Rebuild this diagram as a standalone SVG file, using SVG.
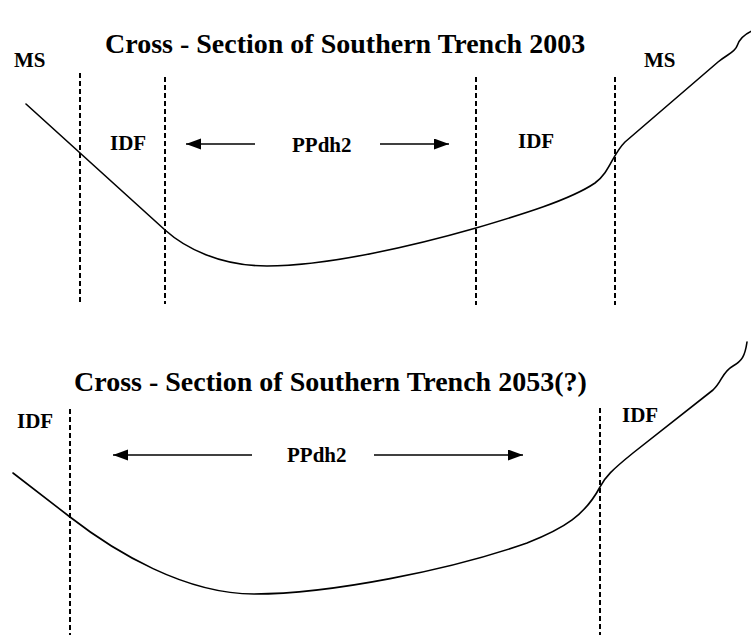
<svg xmlns="http://www.w3.org/2000/svg" width="751" height="635" viewBox="0 0 751 635">
  <defs>
    <style>
      .title { font-family: "Liberation Serif", "Times New Roman", serif; font-weight: bold; font-size: 28px; fill: #000; }
      .lbl { font-family: "Liberation Serif", "Times New Roman", serif; font-weight: bold; font-size: 21px; fill: #000; }
      .div { stroke: #000; stroke-width: 2; stroke-dasharray: 5 3; fill: none; }
      .ground { stroke: #000; stroke-width: 1.6; fill: none; stroke-linejoin: round; stroke-linecap: round; }
      .arrow { stroke: #000; stroke-width: 1.4; fill: none; marker-end: url(#head); }
    </style>
    <marker id="head" markerUnits="userSpaceOnUse" markerWidth="16" markerHeight="12" refX="15" refY="5.5" orient="auto">
      <path d="M0,0 L15,5.5 L0,11 z" fill="#000"/>
    </marker>
  </defs>
  <rect width="751" height="635" fill="#fff"/>

  <!-- Top section: 2003 -->
  <g id="section-2003">
    <text class="title" x="105" y="53">Cross - Section of Southern Trench 2003</text>
    <path class="ground" d="M26,104 L165,230 C185,248 220,266 267,266 C330,266 420,244 476,228 C520,215 570,200 595,183 C610,172 612,155 625,142 L718,62 C728,54 735,52 737,46 C739,40 743,35 752,31"/>
    <line class="div" x1="80" y1="73" x2="80" y2="303"/>
    <line class="div" x1="165" y1="77" x2="165" y2="304"/>
    <line class="div" x1="476" y1="77" x2="476" y2="305"/>
    <line class="div" x1="615" y1="77" x2="615" y2="305"/>
  </g>
  <g id="ms-left-2003"><text class="lbl" x="14" y="67">MS</text></g>
  <g id="ms-right-2003"><text class="lbl" x="644" y="67">MS</text></g>
  <g id="idf-left-2003"><text class="lbl" x="110" y="150">IDF</text></g>
  <g id="ppdh2-2003"><text class="lbl" x="292" y="152">PPdh2</text></g>
  <g id="idf-right-2003"><text class="lbl" x="518" y="148">IDF</text></g>

  <!-- Bottom section: 2053 -->
  <g id="section-2053">
    <text class="title" x="74" y="391">Cross - Section of Southern Trench 2053(?)</text>
    <path class="ground" d="M13,473 L70,517 C115,552 185,594 254,594 C330,594 450,570 527,543 C565,528 585,515 600,487 C605,477 612,470 633,453 L713,390 C722,382 722,372 733,366 C742,361 745,356 747,342"/>
    <line class="div" x1="70" y1="409" x2="70" y2="635"/>
    <line class="div" x1="600" y1="408" x2="600" y2="635"/>
  </g>
  <g id="idf-left-2053"><text class="lbl" x="17" y="428">IDF</text></g>
  <g id="ppdh2-2053"><text class="lbl" x="287" y="462">PPdh2</text></g>
  <g id="idf-right-2053"><text class="lbl" x="622" y="422">IDF</text></g>

  <g id="connectors">
    <line class="arrow" x1="255" y1="144" x2="186" y2="144"/>
    <line class="arrow" x1="380" y1="144" x2="449" y2="144"/>
    <line class="arrow" x1="252" y1="455" x2="113" y2="455"/>
    <line class="arrow" x1="374" y1="455" x2="523" y2="455"/>
  </g>
</svg>
